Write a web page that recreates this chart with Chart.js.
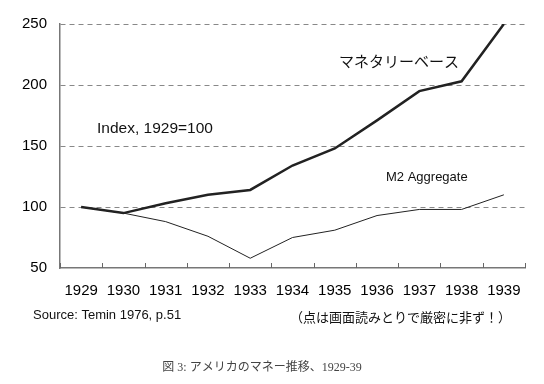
<!DOCTYPE html>
<html>
<head>
<meta charset="utf-8">
<script src="https://cdn.jsdelivr.net/npm/chart.js@4"></script>
<style>
  html, body { margin: 0; padding: 0; background: #fff; }
  #wrap { width: 544px; height: 384px; }
</style>
</head>
<body>
<div id="wrap"><canvas id="money-chart"></canvas></div>
<script>
// data (approximate)
const years = ['1929', '1930', '1931', '1932', '1933', '1934', '1935', '1936', '1937', '1938', '1939'];
const monetaryBase = [100, 95, 103, 110, 114, 134, 148, 171, 195, 203, 250];
const m2Aggregate = [100, 95, 88, 76, 58, 75, 81, 93, 98, 98, 110];
const yTicks = [50, 100, 150, 200, 250];

const SANS = 'Arial, "Liberation Sans", "Noto Sans CJK JP", sans-serif';

// small tick marks on the x axis pointing inward + free text
const decor = {
    id: 'decor',
    afterDraw(chart) {
        const { ctx, chartArea, scales } = chart;
        const x = scales.x;
        ctx.save();
        ctx.strokeStyle = '#666';
        ctx.lineWidth = 1;
        ctx.beginPath();
        for (let i = 0; i <= years.length; i++) {
            const px = Math.round(x.getPixelForValue(i - 0.5)) + 0.5;
            ctx.moveTo(px, chartArea.bottom);
            ctx.lineTo(px, chartArea.bottom - 5);
        }
        ctx.stroke();

        ctx.fillStyle = '#111';
        ctx.textBaseline = 'middle';
        ctx.textAlign = 'left';
        ctx.font = '15px ' + SANS;
        ctx.fillText('マネタリーベース', 339, 63);
        ctx.font = '15.5px ' + SANS;
        ctx.fillText('Index, 1929=100', 97, 129);
        ctx.font = '13px ' + SANS;
        ctx.fillText('M2 Aggregate', 386, 177);
        ctx.fillText('Source: Temin 1976, p.51', 33, 315);
        ctx.fillText('（点は画面読みとりで厳密に非ず！）', 290, 318);
        ctx.fillStyle = '#444';
        ctx.textAlign = 'center';
        ctx.font = '12px "Liberation Serif", "Noto Sans CJK JP", serif';
        ctx.fillText('図 3: アメリカのマネー推移、1929-39', 262, 368);
        ctx.restore();
    }
};

new Chart(document.getElementById('money-chart'), {
    type: 'line',
    data: {
        labels: years,
        datasets: [
            { label: 'マネタリーベース', data: monetaryBase, borderColor: '#222', borderWidth: 2.5, pointRadius: 0, tension: 0 },
            { label: 'M2 Aggregate', data: m2Aggregate, borderColor: '#222', borderWidth: 1, pointRadius: 0, tension: 0 }
        ]
    },
    options: {
        responsive: true, maintainAspectRatio: false, animation: false,
        layout: { padding: { top: 24, right: 19, left: 0, bottom: 0 } },
        plugins: { legend: { display: false }, tooltip: { enabled: false } },
        scales: {
            x: {
                offset: true,
                grid: { display: false, drawTicks: false },
                border: { display: true, color: '#777', width: 1.5 },
                ticks: { color: '#000', font: { family: SANS, size: 15 }, padding: 14, maxRotation: 0, autoSkip: false },
                afterFit(scale) { scale.height = 116; }
            },
            y: {
                min: 50, max: 250,
                afterBuildTicks(scale) { scale.ticks = yTicks.map(v => ({ value: v })); },
                grid: {
                    drawTicks: false,
                    color: c => (c.tick && c.tick.value === 50) ? 'rgba(0,0,0,0)' : '#888',
                    lineWidth: 1
                },
                border: { display: true, color: '#777', width: 1.5, dash: [5, 4] },
                ticks: { color: '#000', font: { family: SANS, size: 15 }, padding: 13 },
                afterFit(scale) { scale.width = 60; }
            }
        }
    },
    plugins: [decor]
});
</script>
</body>
</html>
